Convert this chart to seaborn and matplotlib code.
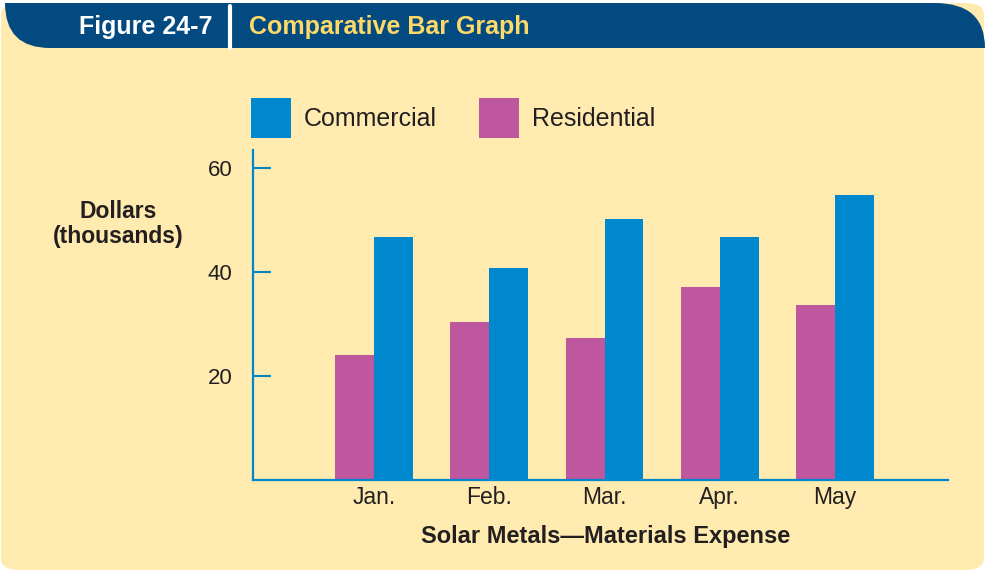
import pandas as pd
import seaborn as sns
import matplotlib.pyplot as plt
from matplotlib.patches import FancyBboxPatch, PathPatch, Patch
from matplotlib.path import Path

sns.set_style("white")
plt.rcParams['font.family'] = ['Liberation Sans', 'DejaVu Sans']

# chart data (thousands of dollars)
months = ["Jan.", "Feb.", "Mar.", "Apr.", "May"]
commercial = [46.7, 40.8, 50.2, 46.7, 54.8]
residential = [24.0, 30.4, 27.3, 37.1, 33.7]
y_ticks = [20, 40, 60]

BLUE = "#0088CE"
MAGENTA = "#BE579E"
BG = "#FFEBB0"
HEADER = "#034A80"
TEXT = "#231F20"

W, H = 985, 572


def fx(x):
    return x / W


def fy(y):
    return 1 - y / H


df = pd.DataFrame({
    "month": months * 2,
    "series": ["Residential"] * len(months) + ["Commercial"] * len(months),
    "value": residential + commercial,
})

fig = plt.figure(figsize=(W / 100, H / 100), dpi=100, facecolor="white")

# yellow panel
bg = FancyBboxPatch((fx(1), fy(570)), fx(983), 567 / H,
                    boxstyle="round,pad=0,rounding_size=0.02",
                    transform=fig.transFigure, facecolor=BG, edgecolor="none", zorder=-2)
fig.add_artist(bg)

# header band
verts = [(5, 3), (935, 3), (985, 3), (985, 48), (50, 48), (5, 48), (5, 3), (5, 3)]
codes = [Path.MOVETO, Path.LINETO, Path.CURVE3, Path.CURVE3, Path.LINETO,
         Path.CURVE3, Path.CURVE3, Path.CLOSEPOLY]
hdr = PathPatch(Path([(fx(x), fy(y)) for x, y in verts], codes),
                transform=fig.transFigure, facecolor=HEADER, edgecolor="none", zorder=-1)
fig.add_artist(hdr)
fig.add_artist(plt.Line2D([fx(230), fx(230)], [fy(6), fy(48)], transform=fig.transFigure,
                          color="white", lw=3, zorder=0))
fig.text(fx(146), fy(27), "Figure 24-7", ha="center", va="center", color="white",
         fontsize=18, fontweight="bold")
fig.text(fx(249), fy(27), "Comparative Bar Graph", ha="left", va="center", color="#FFD968",
         fontsize=18, fontweight="bold")

ax = fig.add_axes([fx(253), fy(480), fx(948) - fx(253), (480 - 150) / H])
ax.set_facecolor("none")

sns.barplot(data=df, x="month", y="value", hue="series",
            hue_order=["Residential", "Commercial"],
            palette={"Residential": MAGENTA, "Commercial": BLUE},
            width=0.676, errorbar=None, saturation=1, linewidth=0,
            legend=False, ax=ax)

ax.set_xlim(-1.05, 4.98)
ax.set_ylim(0, 63.5)
ax.set_yticks(y_ticks)
ax.set_yticklabels([str(t) for t in y_ticks])

for side in ["top", "right"]:
    ax.spines[side].set_visible(False)
for side in ["left", "bottom"]:
    ax.spines[side].set_color(BLUE)
    ax.spines[side].set_linewidth(1.6)

ax.tick_params(axis="y", direction="in", length=13, width=1.5, color=BLUE,
               labelsize=16, labelcolor=TEXT, pad=15, left=True)
ax.tick_params(axis="x", length=0, labelsize=16.5, labelcolor=TEXT, pad=4)

ax.set_xlabel("Solar Metals\u2014Materials Expense", fontsize=17, fontweight="bold", color=TEXT)
ax.xaxis.set_label_coords((606 - 253) / 695, -(537 - 480) / 330)
ax.xaxis.label.set_va("center")

ax.set_ylabel("Dollars\n(thousands)", fontsize=16.5, fontweight="bold", color=TEXT,
              rotation=0, ha="center", va="center", multialignment="center",
              linespacing=1.1)
ax.yaxis.set_label_coords((118 - 253) / 695, (480 - 224) / 330)

handles = [Patch(facecolor=BLUE, edgecolor="none", label="Commercial"),
           Patch(facecolor=MAGENTA, edgecolor="none", label="Residential")]
fig.legend(handles=handles, loc="upper left", bbox_to_anchor=(fx(251), fy(98)),
           ncol=2, frameon=False, fontsize=18, handlelength=1.6, handleheight=2.1,
           handletextpad=0.52, columnspacing=1.68, borderpad=0, borderaxespad=0,
           labelcolor=TEXT)

fig.savefig("out.png", dpi=100, facecolor="white")
